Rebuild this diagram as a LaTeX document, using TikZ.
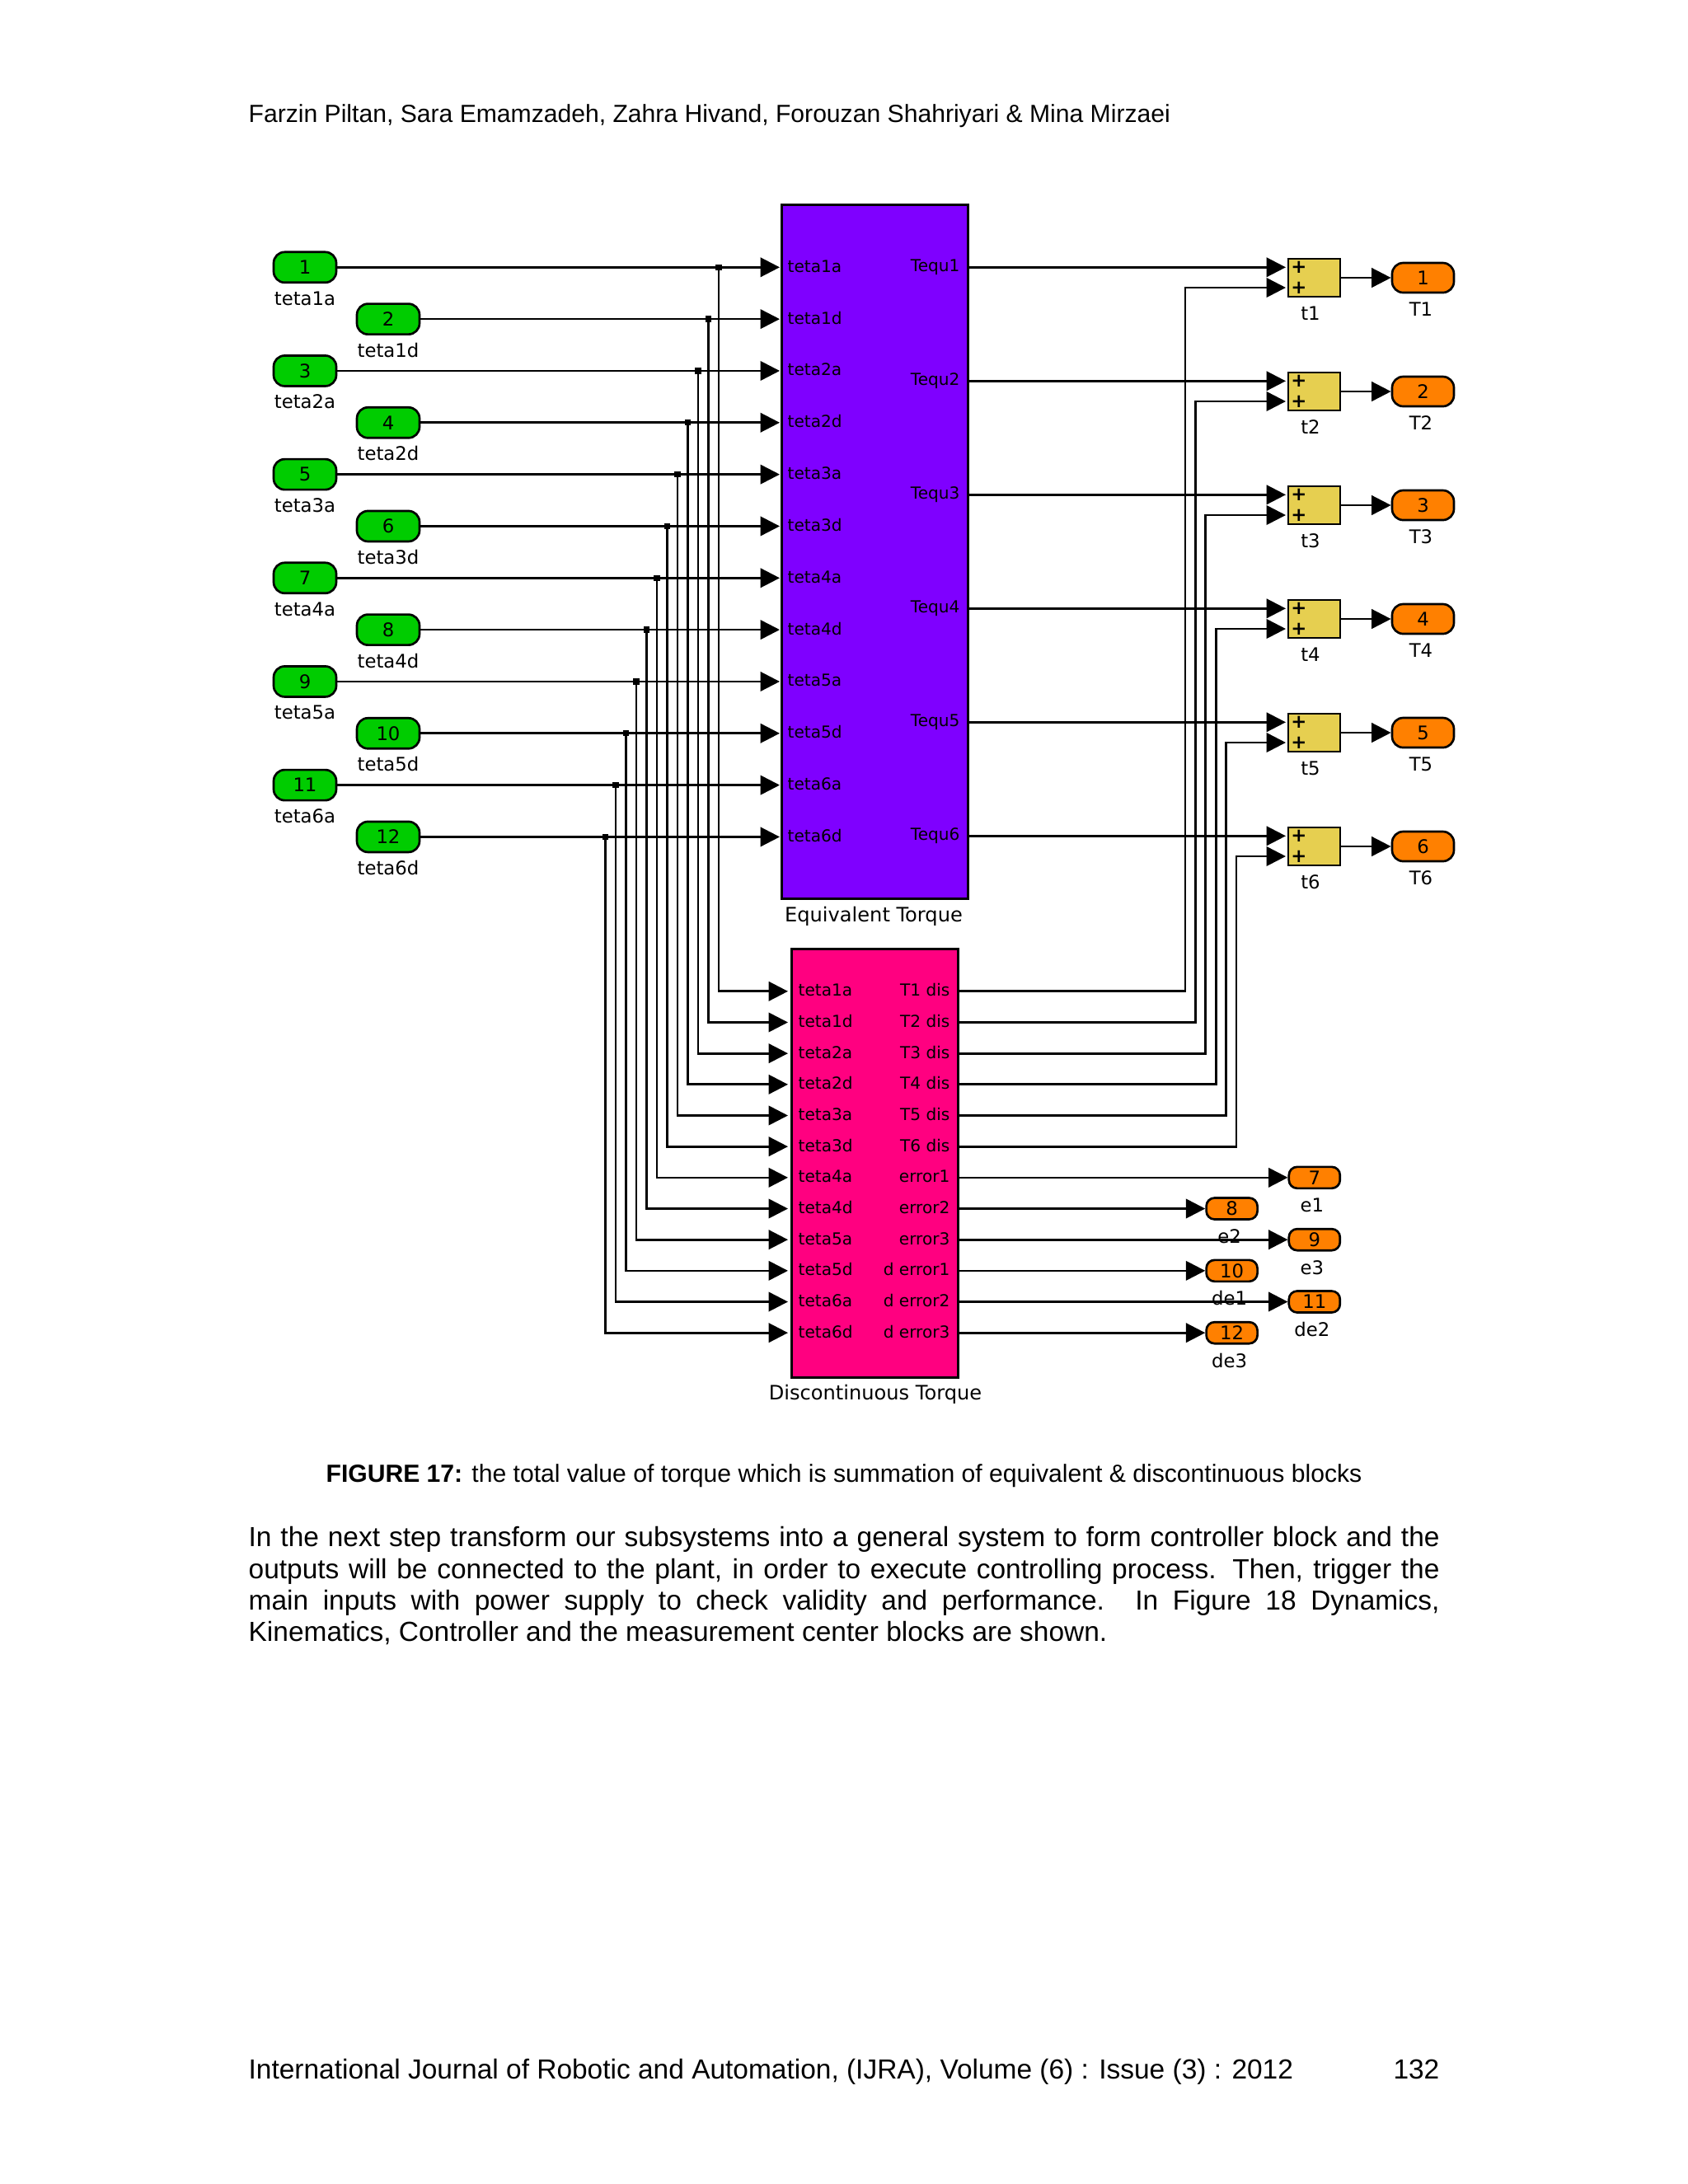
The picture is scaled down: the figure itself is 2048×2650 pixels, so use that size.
\documentclass[tikz,border=0pt]{standalone}
\usepackage{fontspec}
\setmainfont{Liberation Sans}
\newfontfamily\blockfont{DejaVu Sans}
\usetikzlibrary{arrows.meta}
\definecolor{eqviolet}{RGB}{127,0,255}
\definecolor{dispink}{RGB}{255,0,128}
\definecolor{ingreen}{RGB}{0,204,0}
\definecolor{outorange}{RGB}{255,128,0}
\definecolor{sumyellow}{RGB}{230,207,80}
\def\pxu{0.2988pt}
\tikzset{
  wire/.style={line width=0.8pt, >={Triangle[length=7pt,width=7pt]}},
  blocktext/.style={font=\blockfont\fontsize{6.8}{8}\selectfont, inner sep=0pt},
  porttext/.style={font=\blockfont\fontsize{6}{7}\selectfont, inner sep=0pt},
  nametext/.style={font=\blockfont\fontsize{7.2}{9}\selectfont, inner sep=0pt},
  inport/.style={draw=black, line width=0.8pt, fill=ingreen, rounded corners=4pt, blocktext, minimum width=76*\pxu, minimum height=37*\pxu},
  outport/.style={draw=black, line width=0.8pt, fill=outorange, rounded corners=4pt, blocktext, minimum width=75*\pxu, minimum height=36*\pxu},
  errport/.style={draw=black, line width=0.8pt, fill=outorange, rounded corners=3pt, blocktext, minimum width=62*\pxu, minimum height=26*\pxu},
  sumbox/.style={draw=black, line width=0.8pt, fill=sumyellow, minimum width=63*\pxu, minimum height=46*\pxu, inner sep=0pt},
  subblock/.style={draw=black, line width=0.9pt, inner sep=0pt},
  busdot/.style={fill=black, inner sep=0pt, minimum size=2.2pt},
  pagetext/.style={inner sep=0pt}
}
\begin{document}
\begin{tikzpicture}[x=0.2988pt,y=-0.2988pt]
  \useasboundingbox (0,0) rectangle (2048,2650);
  \node[pagetext, anchor=base west, font=\fontsize{9}{11}\selectfont] (header) at (301,148) {Farzin Piltan, Sara Emamzadeh, Zahra Hivand, Forouzan Shahriyari \& Mina Mirzaei};

  \node[subblock, fill=eqviolet, minimum width=226*\pxu, minimum height=842*\pxu] (equiv) at (1061,669) {};
  \node[nametext, anchor=base] (equivname) at (1060,1118) {Equivalent Torque};
  \node[subblock, fill=dispink, minimum width=202*\pxu, minimum height=520*\pxu] (discon) at (1061,1411) {};
  \node[nametext, anchor=base] (disconname) at (1062,1698) {Discontinuous Torque};

  \foreach \name [count=\i] in {teta1a,teta1d,teta2a,teta2d,teta3a,teta3d,teta4a,teta4d,teta5a,teta5d,teta6a,teta6d} {
    \pgfmathsetmacro\rowy{324.3+62.83*(\i-1)}
    \pgfmathsetmacro\busx{872-12.5*(\i-1)}
    \pgfmathsetmacro\piny{1202.8+37.67*(\i-1)}
    \pgfmathsetmacro\inx{isodd(\i) ? 370 : 471}
    \node[inport] (in\i) at (\inx,\rowy) {\i};
    \node[blocktext, anchor=base] (inname\i) at (\inx,\rowy+46) {\name};
    \node[porttext, anchor=base west] (eqname\i) at (955,\rowy+6) {\name};
    \node[porttext, anchor=base west] (disname\i) at (968,\piny+6) {\name};
    \coordinate (eqport\i) at (946,\rowy);
    \coordinate (disport\i) at (956,\piny);
    \node[busdot] (junc\i) at (\busx,\rowy) {};
    \draw[wire,->] (in\i) -- (eqport\i);
    \draw[wire,->] (junc\i.center) |- (disport\i);
  }

  \foreach \k in {1,...,6} {
    \pgfmathsetmacro\tequy{324.3+138*(\k-1)}
    \pgfmathsetmacro\sumy{337+138*(\k-1)}
    \pgfmathsetmacro\dity{1202.8+37.67*(\k-1)}
    \pgfmathsetmacro\backx{1438+12.4*(\k-1)}
    \node[porttext, anchor=base east] (tequname\k) at (1165,\tequy+5) {Tequ\k};
    \node[porttext, anchor=base east] (tdisname\k) at (1153,\dity+6) {T\k\ dis};
    \node[sumbox] (t\k) at (1594.5,\sumy) {};
    \node[blocktext, anchor=center] (plusa\k) at (1576,\tequy) {\textbf{+}};
    \node[blocktext, anchor=center] (plusb\k) at (1576,\tequy+24.7) {\textbf{+}};
    \node[blocktext, anchor=base] (tname\k) at (1590,\sumy+51) {t\k};
    \node[outport] (T\k) at (1726.5,\sumy) {\k};
    \node[blocktext, anchor=base] (Tname\k) at (1724,\sumy+46) {T\k};
    \coordinate (suma\k) at (1560,\tequy);
    \coordinate (sumb\k) at (1560,\tequy+24.7);
    \coordinate (back\k) at (\backx,\tequy+24.7);
    \coordinate (disout\k) at (1162,\dity);
    \draw[wire,->] (equiv.east |- suma\k) -- (suma\k);
    \draw[wire,->] (disout\k) -| (back\k) -- (sumb\k);
    \draw[wire,->] (t\k) -- (T\k);
  }

  \foreach \port/\name [count=\j] in {error1/e1,error2/e2,error3/e3,d error1/de1,d error2/de2,d error3/de3} {
    \pgfmathsetmacro\rowno{int(\j+6)}
    \pgfmathsetmacro\erry{1202.8+37.67*(\j+5)}
    \pgfmathsetmacro\errx{isodd(\j) ? 1594.8 : 1494.6}
    \node[porttext, anchor=base east] (errname\j) at (1153,\erry+6) {\port};
    \node[errport] (err\j) at (\errx,\erry) {\rowno};
    \node[blocktext, anchor=base] (errlabel\j) at (\errx-3,\erry+42) {\name};
    \coordinate (errout\j) at (1162,\erry);
    \draw[wire,->] (errout\j) -- (err\j);
  }

  \node[pagetext, anchor=base, font=\fontsize{9}{11}\selectfont] (caption) at (1024,1798) {\textbf{FIGURE 17:} the total value of torque which is summation of equivalent \& discontinuous blocks};
  \node[pagetext, anchor=north west, text width=1445*\pxu, align=justify, font=\fontsize{10}{11.4}\selectfont] (body) at (301,1852) {In the next step transform our subsystems into a general system to form controller block and the\linebreak outputs will be connected to the plant, in order to execute controlling process. Then, trigger the\linebreak main inputs with power supply to check validity and performance. In Figure 18 Dynamics,\linebreak Kinematics, Controller and the measurement center blocks are shown.};
  \node[pagetext, anchor=base west, font=\fontsize{10}{13}\selectfont] (journal) at (301,2522) {International Journal of Robotic and Automation, (IJRA), Volume (6) : Issue (3) : 2012};
  \node[pagetext, anchor=base east, font=\fontsize{10}{13}\selectfont] (pageno) at (1747,2522) {132};
\end{tikzpicture}
\end{document}
